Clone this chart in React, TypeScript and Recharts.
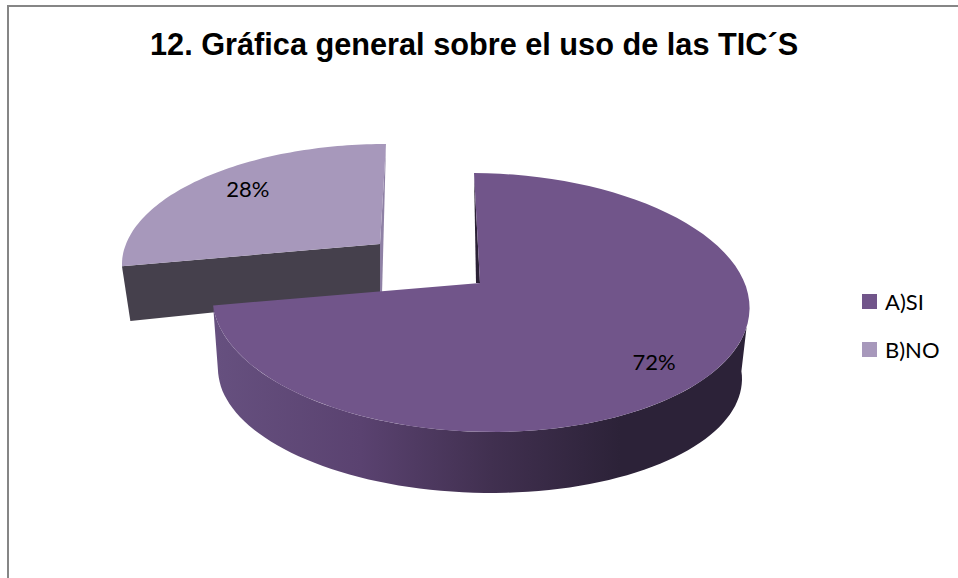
import { PieChart, Pie, Legend } from 'recharts';

const categories = ['B)NO', 'A)SI'];
const values = [28, 72];
const colors = ['#a798bb', '#71558a'];
const title = '12. Gráfica general sobre el uso de las TIC´S';

const chartData = categories.map((name, i) => ({ name, value: values[i], fill: colors[i] }));

const RADIAN = Math.PI / 180;
const PERSPECTIVE = 0.15;

// top face and lower rim of each exploded slice, index follows chartData
const TOP = [
  { x: 380, y: 244, rx: 254, ry: 115, shear: 6.9, tilt: 0 },
  { x: 480, y: 283, rx: 265.4, ry: 126.6, shear: -6.9, tilt: 2 },
];
const BOTTOM = [
  { x: 380, y: 295, rx: 247, ry: 135, shear: 0, tilt: 0 },
  { x: 480, y: 356, rx: 259, ry: 116.3, shear: 0, tilt: 5 },
];
const LABEL_SHIFT = [
  { dx: 10, dy: -1 },
  { dx: -7, dy: 7 },
];

type Plane = { x: number; y: number; rx: number; ry: number; shear: number; tilt: number };

// circle angle to screen, with a simple perspective divide
const project = (p: Plane, angle: number, f = 1) => {
  const u = Math.cos(angle * RADIAN) * f;
  const v = Math.sin(angle * RADIAN) * f;
  const d = 1 + PERSPECTIVE * v;
  return { x: p.x + (p.rx * u + p.shear * v) / d, y: p.y + (p.tilt * u - p.ry * v) / d };
};

const rim = (p: Plane, from: number, to: number) => {
  const pts: string[] = [];
  const n = 80;
  for (let i = 0; i <= n; i++) {
    const q = project(p, from + ((to - from) * i) / n);
    pts.push(`${q.x.toFixed(1)} ${q.y.toFixed(1)}`);
  }
  return pts;
};

const poly = (pts: string[]) => `M${pts.join('L')}Z`;

const Slice3D = (props: any) => {
  const { startAngle, endAngle, fill, index } = props;
  const hi = Math.max(startAngle, endAngle);
  const lo = Math.min(startAngle, endAngle);
  const top = TOP[index];
  const bottom = BOTTOM[index];
  const face = poly([`${top.x} ${top.y}`, ...rim(top, lo, hi)]);

  if (index === 0) {
    const left = project(top, hi);
    const leftLow = project(bottom, hi);
    const upper = project(top, lo);
    return (
      <g>
        <path
          d={poly([`${top.x} ${top.y}`, `${left.x} ${left.y}`, `${leftLow.x} ${leftLow.y}`, `${bottom.x} ${bottom.y}`])}
          fill="#45404c"
        />
        <path
          d={poly([`${upper.x} ${upper.y}`, `${bottom.x + 2} ${bottom.y}`, `${bottom.x} ${bottom.y}`, `${top.x} ${top.y}`])}
          fill="#8f81a5"
        />
        <path d={face} fill={fill} />
      </g>
    );
  }

  const upper = project(top, hi);
  const wall = poly([...rim(top, lo, -18.4), ...rim(bottom, -5, lo)]);
  return (
    <g>
      <path d={wall} fill="url(#wallShade)" />
      <path d={poly([`${upper.x} ${upper.y}`, `${top.x} ${top.y}`, `${top.x - 4} ${top.y}`])} fill="#2b2136" />
      <path d={face} fill={fill} />
    </g>
  );
};

const renderLabel = (props: any) => {
  const { midAngle, percent, index } = props;
  const pos = project(TOP[index], midAngle, 0.8);
  return (
    <text
      x={pos.x + LABEL_SHIFT[index].dx}
      y={pos.y + LABEL_SHIFT[index].dy}
      fill="#000"
      textAnchor="middle"
      dominantBaseline="central"
      fontFamily="Lato"
      fontSize={22}
    >
      {`${(percent * 100).toFixed(0)}%`}
    </text>
  );
};

const renderLegend = (props: any) => (
  <div>
    {props.payload.map((entry: any) => (
      <div key={entry.value} style={{ display: 'flex', alignItems: 'center', height: 48 }}>
        <span style={{ width: 15, height: 15, background: entry.color, marginRight: 8 }} />
        <span style={{ fontFamily: 'Lato', fontSize: 22, color: '#000' }}>{entry.value}</span>
      </div>
    ))}
  </div>
);

export default function App() {
  return (
    <div style={{ position: 'absolute', left: 0, top: 0, width: 958, height: 578, overflow: 'hidden', background: '#fff' }}>
      <div
        style={{
          position: 'absolute',
          left: 7,
          top: 5,
          width: 1000,
          height: 600,
          border: '2px solid #868686',
        }}
      />
      <div
        style={{
          position: 'absolute',
          left: 150,
          top: 25,
          whiteSpace: 'nowrap',
          fontFamily: 'Liberation Sans',
          fontWeight: 'bold',
          fontSize: 30.7,
          color: '#000',
          lineHeight: '40px',
        }}
      >
        {title}
      </div>
      <div style={{ position: 'absolute', left: 0, top: 0 }}>
        <PieChart width={958} height={578}>
          <defs>
            <linearGradient id="wallShade" gradientUnits="userSpaceOnUse" x1={215} y1={0} x2={620} y2={0}>
              <stop offset="0%" stopColor="#66507f" />
              <stop offset="36%" stopColor="#5a4270" />
              <stop offset="68%" stopColor="#413050" />
              <stop offset="100%" stopColor="#2c2238" />
            </linearGradient>
          </defs>
          <Pie
            data={chartData}
            dataKey="value"
            nameKey="name"
            cx={480}
            cy={283}
            outerRadius={200}
            startAngle={90 + values[0] * 3.6}
            endAngle={90 + values[0] * 3.6 - 360}
            stroke="none"
            legendType="square"
            labelLine={false}
            label={renderLabel}
            shape={Slice3D}
            isAnimationActive={false}
          />
          <Legend
            layout="vertical"
            content={renderLegend}
            wrapperStyle={{ position: 'absolute', left: 862, top: 277, width: 90 }}
          />
        </PieChart>
      </div>
    </div>
  );
}
